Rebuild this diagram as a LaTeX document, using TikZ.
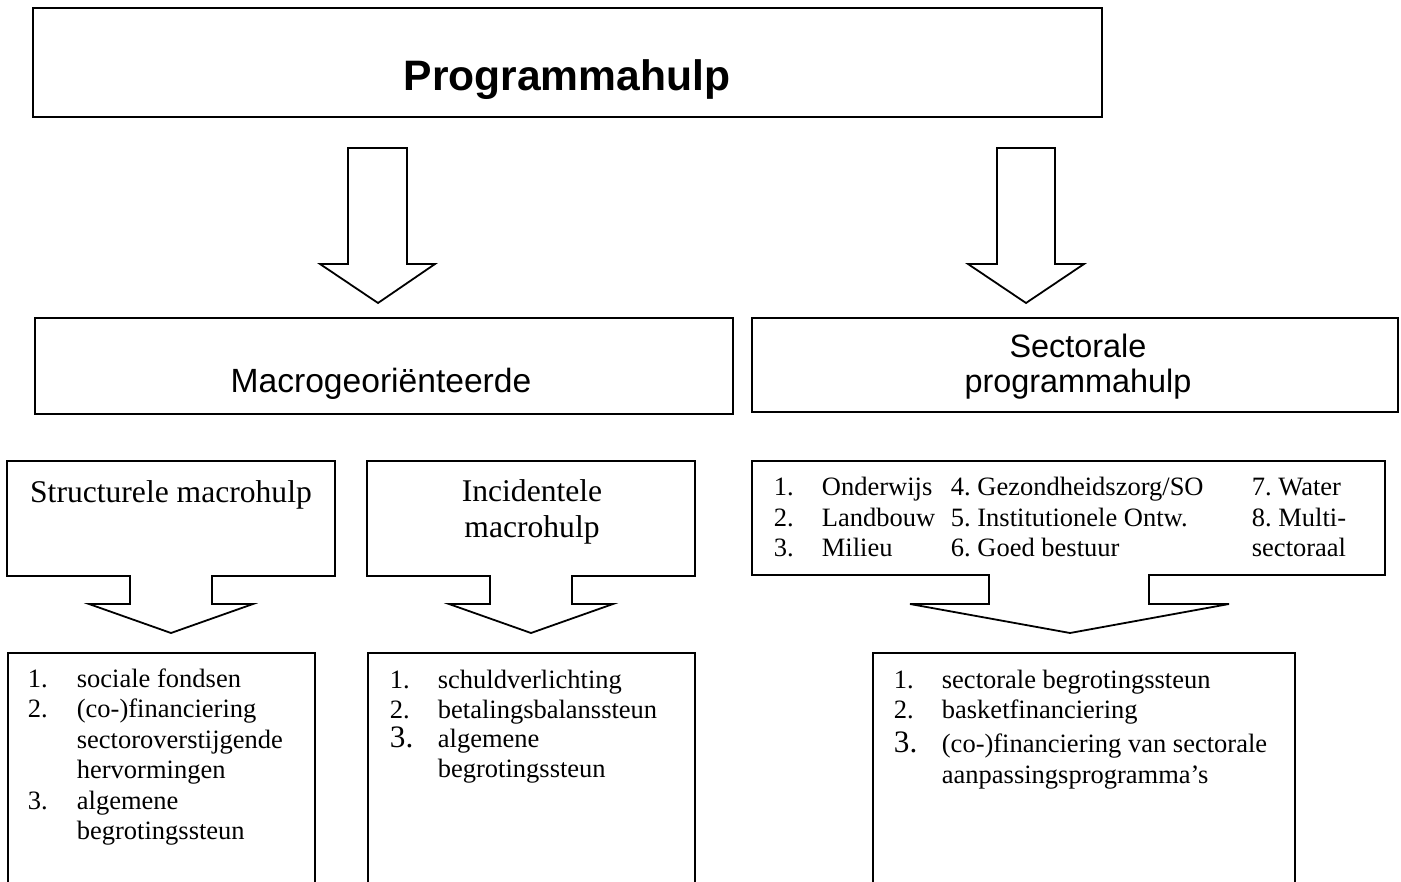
\documentclass[tikz,border=0pt]{standalone}
\usepackage{fontspec}
\setmainfont{Liberation Serif}
\newfontfamily\arialfont{Liberation Sans}
\frenchspacing
\begin{document}
\begin{tikzpicture}[x=0.5pt,y=-0.5pt,line width=0.9pt,line join=miter,
  lbl/.style={inner sep=0pt,anchor=base west,font=\fontsize{13.25}{15}\selectfont},
  bignum/.style={inner sep=0pt,anchor=base west,font=\fontsize{15.6}{17}\selectfont},
  head/.style={inner sep=0pt,anchor=base,font=\fontsize{15.8}{18}\selectfont},
  sans/.style={inner sep=0pt,anchor=base,font=\arialfont\fontsize{16.2}{18}\selectfont}]
\useasboundingbox (0,0) rectangle (1401,882);

% top box
\draw (33,8) rectangle (1102,117);
\node[inner sep=0pt,anchor=base,font=\arialfont\bfseries\fontsize{21.3}{24}\selectfont] (prog) at (567,91) {Programmahulp};

% big arrows
\draw (348,148) -- (407,148) -- (407,264) -- (435,264) -- (378,303) -- (320,264) -- (348,264) -- cycle;
\draw (997,148) -- (1055,148) -- (1055,264) -- (1084,264) -- (1026,303) -- (968,264) -- (997,264) -- cycle;

% second row
\draw (35,318) rectangle (733,414);
\node[sans,font=\arialfont\fontsize{16.8}{18}\selectfont] (macro) at (381,392) {Macrogeoriënteerde};
\draw (752,318) rectangle (1398,412);
\node[sans] (sect1) at (1078,357) {Sectorale};
\node[sans] (sect2) at (1078,392) {programmahulp};

% third row callouts
\draw (7,461) -- (335,461) -- (335,576) -- (212,576) -- (212,604) -- (253,604) -- (171,633) -- (89,604) -- (130,604) -- (130,576) -- (7,576) -- cycle;
\node[head] (struct) at (171,502) {Structurele macrohulp};

\draw (367,461) -- (695,461) -- (695,576) -- (572,576) -- (572,604) -- (613,604) -- (531,633) -- (449,604) -- (490,604) -- (490,576) -- (367,576) -- cycle;
\node[head] (inc1) at (532,501) {Incidentele};
\node[head] (inc2) at (532,537) {macrohulp};

\draw (752,461) -- (1385,461) -- (1385,575) -- (1149,575) -- (1149,604) -- (1229,604) -- (1070,633) -- (910,604) -- (989,604) -- (989,575) -- (752,575) -- cycle;
\node[lbl] (s1n) at (773,495) {1.};
\node[lbl] (s1t) at (821,495) {Onderwijs};
\node[lbl] (s2n) at (773,526) {2.};
\node[lbl] (s2t) at (821,526) {Landbouw};
\node[lbl] (s3n) at (773,556) {3.};
\node[lbl] (s3t) at (821,556) {Milieu};
\node[lbl] (s4) at (950,495) {4. Gezondheidszorg/SO};
\node[lbl] (s5) at (950,526) {5. Institutionele Ontw.};
\node[lbl] (s6) at (950,556) {6. Goed bestuur};
\node[lbl] (s7) at (1251,495) {7. Water};
\node[lbl] (s8) at (1251,526) {8. Multi-};
\node[lbl] (s8b) at (1251,556) {sectoraal};

% bottom boxes (open at the bottom)
\draw (8,884) -- (8,653) -- (315,653) -- (315,884);
\node[lbl] (a1n) at (27,687) {1.};
\node[lbl] (a1t) at (76,687) {sociale fondsen};
\node[lbl] (a2n) at (27,717) {2.};
\node[lbl] (a2t) at (76,717) {(co-)financiering};
\node[lbl] (a2u) at (76,748) {sectoroverstijgende};
\node[lbl] (a2v) at (76,778) {hervormingen};
\node[lbl] (a3n) at (27,809) {3.};
\node[lbl] (a3t) at (76,809) {algemene};
\node[lbl] (a3u) at (76,839) {begrotingssteun};

\draw (368,884) -- (368,653) -- (695,653) -- (695,884);
\node[lbl] (b1n) at (389,688) {1.};
\node[lbl] (b1t) at (437,688) {schuldverlichting};
\node[lbl] (b2n) at (389,718) {2.};
\node[lbl] (b2t) at (437,718) {betalingsbalanssteun};
\node[bignum] (b3n) at (389,747) {3.};
\node[lbl] (b3t) at (437,747) {algemene};
\node[lbl] (b3u) at (437,777) {begrotingssteun};

\draw (873,884) -- (873,653) -- (1295,653) -- (1295,884);
\node[lbl] (c1n) at (893,688) {1.};
\node[lbl] (c1t) at (941,688) {sectorale begrotingssteun};
\node[lbl] (c2n) at (893,718) {2.};
\node[lbl] (c2t) at (941,718) {basketfinanciering};
\node[bignum] (c3n) at (893,752) {3.};
\node[lbl] (c3t) at (941,752) {(co-)financiering van sectorale};
\node[lbl] (c3u) at (941,783) {aanpassingsprogramma’s};
\end{tikzpicture}
\end{document}
